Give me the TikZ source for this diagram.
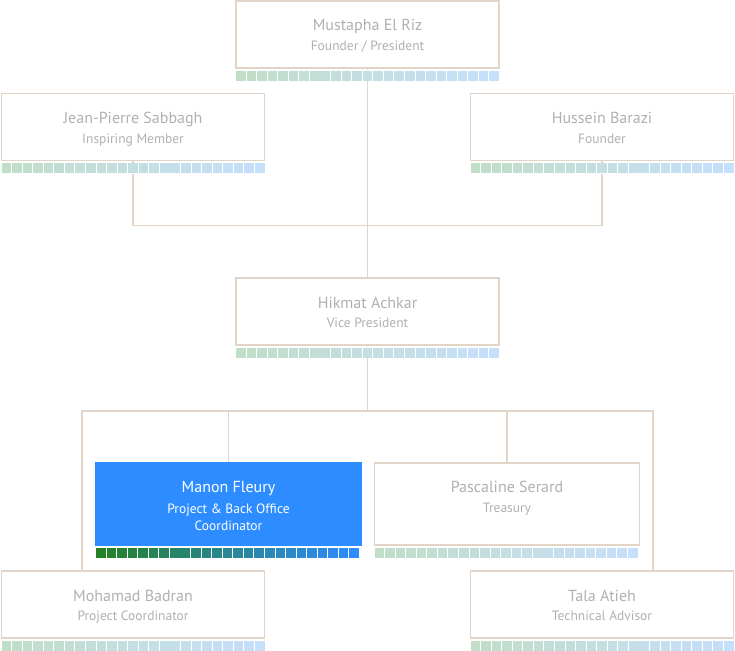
\documentclass[tikz,border=0pt]{standalone}
\usepackage{fontspec}
\setmainfont{PT Sans}
\definecolor{framecol}{RGB}{226,212,198}
\definecolor{namecol}{RGB}{176,176,176}
\definecolor{tilegreen}{RGB}{192,222,200}
\definecolor{tileblue}{RGB}{198,223,251}
\definecolor{focusblue}{RGB}{45,140,255}
\definecolor{focusgreen}{RGB}{36,128,36}
\newcommand{\tilebar}[3]{%
  \fill[white] ([yshift=-1.5pt]#1.south west) rectangle ([yshift=-12.5pt]#1.south east);
  \foreach \i in {0,...,24}{%
    \pgfmathsetmacro{\mix}{100-\i*100/24}%
    \fill[#2!\mix!#3] ([xshift=\i*10.56pt+0.8pt,yshift=-2pt]#1.south west) rectangle ++(9.6pt,-10pt);
  }%
}
\newcommand{\who}[3][4.5pt]{\vbox{\baselineskip=0pt\lineskip=0pt\lineskiplimit=0pt
  \halign{\hfil##\hfil\cr
  \fontsize{16}{19}\selectfont\rule[-7.5pt]{0pt}{24.5pt}#2\cr
  \fontsize{13.5}{16}\selectfont\rule[-#1]{0pt}{\dimexpr12pt+#1\relax}#3\cr}}}
\newcommand{\whofocus}[3]{\vbox{\baselineskip=0pt\lineskip=0pt\lineskiplimit=0pt
  \halign{\hfil##\hfil\cr
  \fontsize{16}{19}\selectfont\rule[-9pt]{0pt}{24pt}#1\cr
  \fontsize{13.5}{16}\selectfont\rule[-5pt]{0pt}{17pt}#2\cr
  \fontsize{13.5}{16}\selectfont\rule{0pt}{12pt}#3\cr}}}
\begin{document}
\begin{tikzpicture}[every node/.style={rectangle,draw=framecol,line width=1.6pt,
				minimum width=263pt,minimum height=67pt,inner sep=0pt,text=namecol},
				link/.style={draw=framecol,line width=1.6pt},
				tall/.style={minimum width=265pt,minimum height=82pt},
				focus/.style={tall,fill=focusblue,draw=focusblue,text=white}]
\useasboundingbox (0pt,0pt) rectangle (735pt,-650pt);
\node (founder) at (367.5pt,-34.5pt) {\who{Mustapha El Riz}{Founder / President}};
\node (jean) at (133pt,-127pt) {\who{Jean-Pierre Sabbagh}{Inspiring Member}};
\node (hussein) at (602pt,-127pt) {\who{Hussein Barazi}{Founder}};
\node (hikmat) at (367.5pt,-311.5pt) {\who{Hikmat Achkar}{Vice President}};
\node[focus] (manon) at (228.5pt,-504pt)
	{\whofocus{Manon Fleury}{Project \& Back Office}{Coordinator}};
\node[tall] (pascaline) at (507pt,-504pt) {\who[20.5pt]{Pascaline Serard}{Treasury}};
\node (mohamad) at (133pt,-604.5pt) {\who{Mohamad Badran}{Project Coordinator}};
\node (tala) at (602pt,-604.5pt) {\who{Tala Atieh}{Technical Advisor}};
\draw[link] (founder.south) -- (hikmat.north);
\draw[link] (jean.south) -- ++(0,-64pt) -| (hussein.south);
\coordinate (hub) at ([yshift=-65pt]hikmat.south);
\draw[link] (hikmat.south) -- (hub);
\draw[link] ([xshift=-51pt]mohamad.north) |- (hub) -| ([xshift=51pt]tala.north);
\draw[link] (manon.north) -- (manon.north |- hub);
\draw[link] (pascaline.north) -- (pascaline.north |- hub);
\tilebar{founder}{tilegreen}{tileblue}
\tilebar{jean}{tilegreen}{tileblue}
\tilebar{hussein}{tilegreen}{tileblue}
\tilebar{hikmat}{tilegreen}{tileblue}
\tilebar{manon}{focusgreen}{focusblue}
\tilebar{pascaline}{tilegreen}{tileblue}
\tilebar{mohamad}{tilegreen}{tileblue}
\tilebar{tala}{tilegreen}{tileblue}
\end{tikzpicture}
\end{document}
